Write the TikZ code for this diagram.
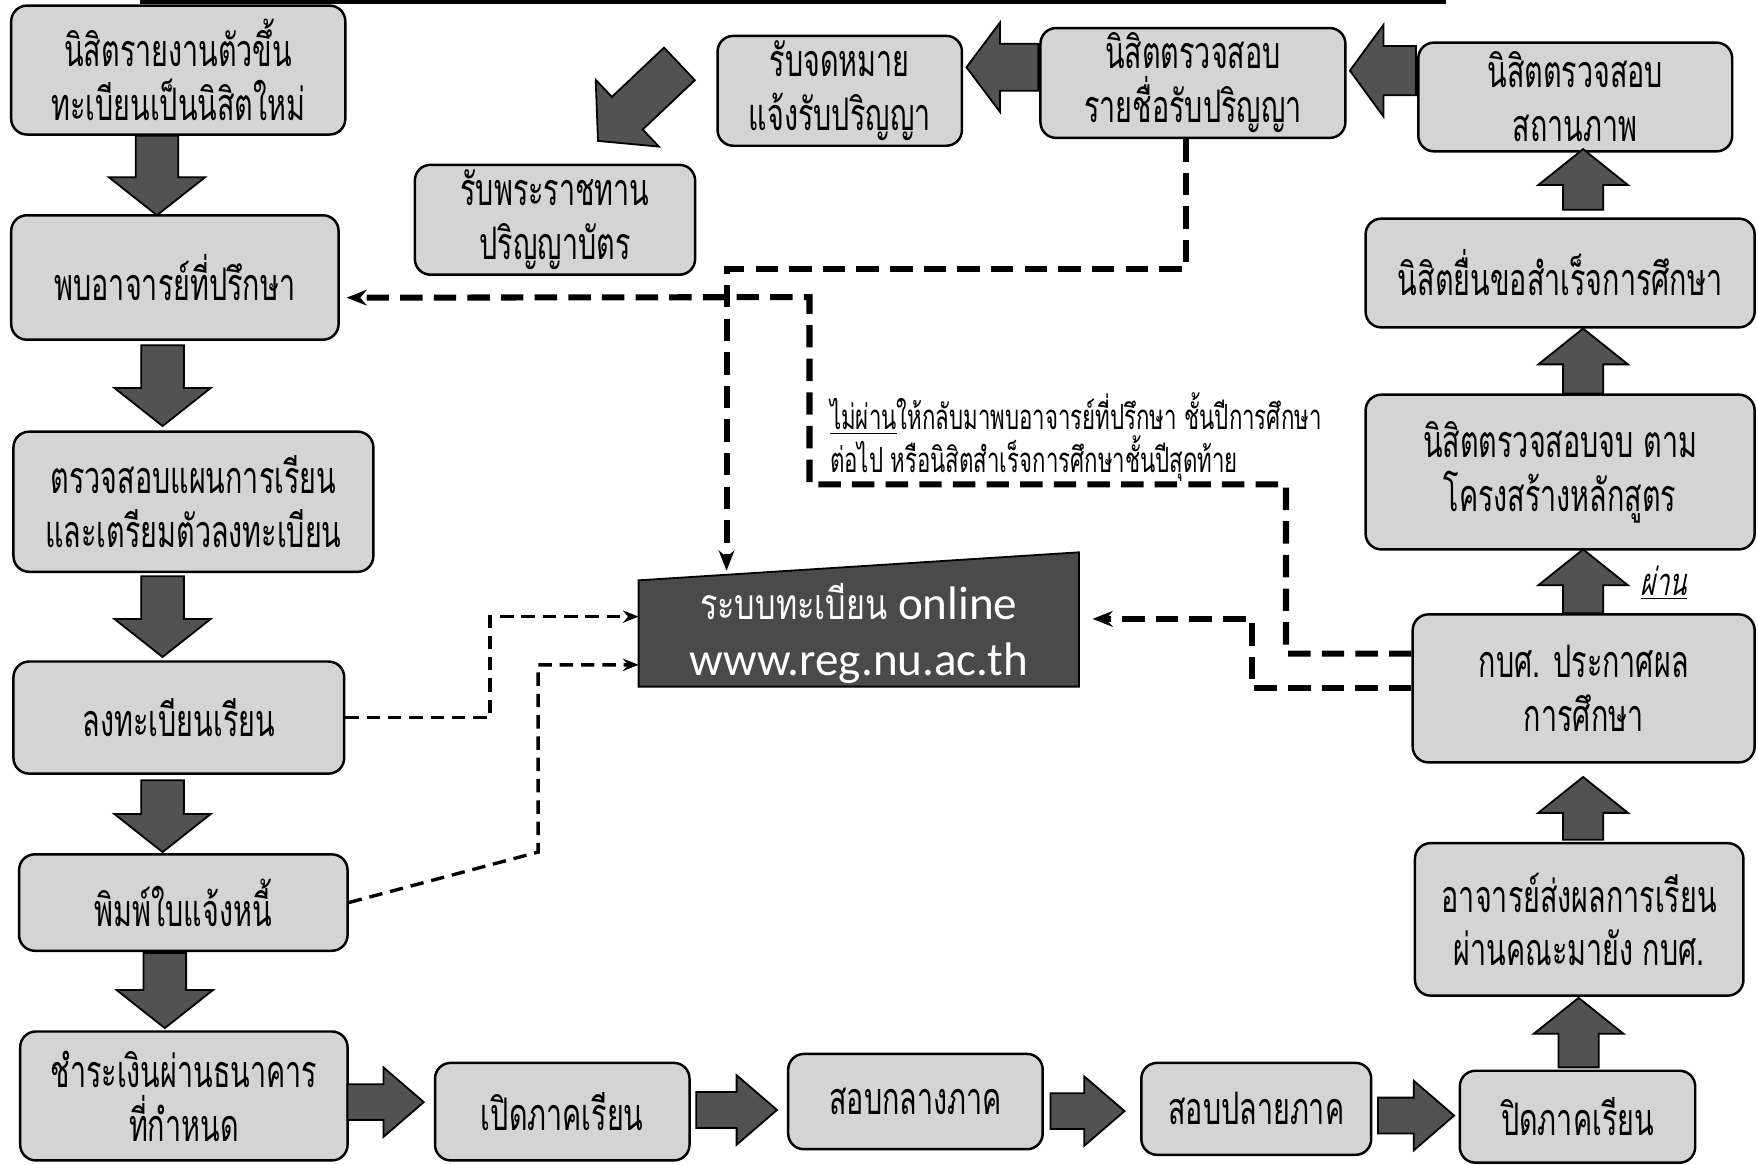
\documentclass[tikz,border=0pt]{standalone}
\usepackage{fontspec}
\setmainfont{Liberation Serif}
\newfontfamily\thaifont[Script=Thai,FakeStretch=0.64]{Loma}
\newfontfamily\thaireg[Script=Thai,FakeStretch=0.76]{Loma}
\newfontfamily\thaiit[Script=Thai,FakeStretch=0.66,FakeSlant=0.2]{Loma}
\newfontfamily\latfont{Carlito}
\usetikzlibrary{arrows.meta,calc,backgrounds}
\definecolor{boxgray}{RGB}{212,212,212}
\definecolor{arrgray}{RGB}{82,82,82}
\definecolor{regfill}{RGB}{74,74,74}
\tikzset{
  box/.style={draw=black, line width=1.1pt, rounded corners=7pt, fill=boxgray,
    align=center, inner sep=2pt, font=\thaifont\fontsize{20}{24}\selectfont},
  blk/.style={draw=black, line width=0.8pt, fill=arrgray, line join=miter},
  dl/.style={line width=2.7pt, dash pattern=on 10pt off 5pt,
    -{Stealth[length=9pt,width=7pt]}},
  dlt/.style={line width=1.5pt, dash pattern=on 6pt off 3.5pt,
    -{Stealth[length=7pt,width=5.5pt]}},
  regbox/.style={inner sep=0pt, align=center, text=white,
    font=\latfont\fontsize{21}{25}\selectfont},
  regshape/.style={draw=black, line width=0.8pt, fill=regfill}
}
% box: name, x1, y1, x2, y2, text
\newcommand\bx[6]{\node[box, minimum width={(#4-#2)*0.5pt}, minimum height={(#5-#3)*0.5pt}] (#1) at ({(#2+#4)/2},{(#3+#5)/2}) {#6};}
% block arrow: tail x, tail y, angle, length, shaft, head width, head length
\newcommand\barr[7]{%
  \begin{scope}[shift={(#1,#2)},rotate=#3]
    \draw[blk] (0,{-#5/2}) -- ({#4-#7},{-#5/2}) -- ({#4-#7},{-#6/2}) -- (#4,0)
      -- ({#4-#7},{#6/2}) -- ({#4-#7},{#5/2}) -- (0,{#5/2}) -- cycle;
  \end{scope}}
\begin{document}
\begin{tikzpicture}[x=0.5pt,y=-0.5pt]
\useasboundingbox (0,0) rectangle (1568,1039);
% cut-off title rule
\fill[black] (125,0) rectangle (1290,3.5);

% left column
\bx{b1}{10}{5}{308}{120}{นิสิตรายงานตัวขึ้น\\ทะเบียนเป็นนิสิตใหม่}
\bx{b2}{10}{192}{302}{303}{พบอาจารย์ที่ปรึกษา}
\bx{b3}{12}{385}{333}{510}{ตรวจสอบแผนการเรียน\\และเตรียมตัวลงทะเบียน}
\bx{b4}{12}{590}{307}{690}{ลงทะเบียนเรียน}
\bx{b5}{17}{762}{310}{848}{พิมพ์ใบแจ้งหนี้}
\bx{b6}{18}{920}{310}{1035}{ชำระเงินผ่านธนาคาร\\ที่กำหนด}
% bottom row
\bx{b7}{388}{948}{615}{1035}{เปิดภาคเรียน}
\bx{b8}{703}{940}{930}{1025}{สอบกลางภาค}
\bx{b9}{1018}{948}{1223}{1030}{สอบปลายภาค}
\bx{b10}{1302}{955}{1512}{1037}{ปิดภาคเรียน}
% right column
\bx{b11}{1262}{752}{1555}{888}{อาจารย์ส่งผลการเรียน\\ผ่านคณะมายัง กบศ.}
\bx{b12}{1260}{548}{1565}{680}{กบศ. ประกาศผล\\การศึกษา}
\bx{b13}{1218}{352}{1565}{490}{นิสิตตรวจสอบจบ ตาม\\โครงสร้างหลักสูตร}
\bx{b14}{1218}{195}{1565}{292}{นิสิตยื่นขอสำเร็จการศึกษา}
\bx{b15}{1265}{38}{1545}{135}{นิสิตตรวจสอบ\\สถานภาพ}
% top row
\bx{b16}{928}{25}{1200}{123}{นิสิตตรวจสอบ\\รายชื่อรับปริญญา}
\bx{b17}{640}{32}{858}{130}{รับจดหมาย\\แจ้งรับปริญญา}
\bx{b18}{370}{147}{620}{245}{รับพระราชทาน\\ปริญญาบัตร}

% registration system
\node[regbox, minimum width=196pt, minimum height=47pt] (reg) at (766,565)
  {{\thaireg\fontsize{19}{25}\selectfont ระบบทะเบียน} online\\
   www.reg.nu.ac.th};
\begin{pgfonlayer}{background}
\draw[regshape] (reg.south west) -- (reg.south east) -- ([yshift=12.5pt]reg.north east)
  -- (reg.north west) -- cycle;
\end{pgfonlayer}
\coordinate (regtop) at (648,509);

% block arrows: left column
\barr{140}{121}{-90}{71}{38}{86}{34}
\barr{145}{308}{-90}{72}{38}{86}{34}
\barr{145}{514}{-90}{72}{38}{86}{34}
\barr{145}{696}{-90}{64}{38}{86}{34}
\barr{147}{850}{-90}{67}{38}{86}{34}
% bottom row
\barr{310}{983}{0}{68}{32}{62}{36}
\barr{621}{990}{0}{72}{32}{62}{36}
\barr{937}{991}{0}{66}{32}{62}{36}
\barr{1229}{995}{0}{68}{32}{62}{36}
% right column
\barr{1408}{952}{90}{62}{36}{80}{32}
\barr{1412}{749}{90}{56}{36}{80}{32}
\barr{1412}{547}{90}{57}{36}{80}{32}
\barr{1412}{351}{90}{58}{36}{80}{32}
\barr{1412}{187}{90}{54}{36}{80}{32}
% top row
\barr{1263}{63}{180}{59}{44}{82}{30}
\barr{926}{60}{180}{64}{42}{80}{30}
\barr{606}{57}{223.4}{100}{40}{82}{36}

% dashed connectors
\draw[dl] ([xshift=-3pt]b16.south) -- (1058,240) -- (648,240) -- (regtop);
\draw[dl] ([yshift=15.5pt]b12.west) -| (1147,432) -| (722,265) -- ([xshift=3pt,yshift=-9pt]b2.east);
\draw[dl] (b12.west) -| (1117,552) -- ([xshift=6pt,yshift=6.5pt]reg.east);
\draw[dlt] (b4.east) -| (437,550) -- ([yshift=7.5pt]reg.west);
\draw[dlt] (b5.east) -- (480,760) -- (480,593) -- ([yshift=-14pt]reg.west);

% labels
\node[anchor=north west, align=left, inner sep=0pt,
  font=\thaifont\fontsize{15.5}{19}\selectfont] (note) at (740,350)
  {\underline{ไม่ผ่าน}ให้กลับมาพบอาจารย์ที่ปรึกษา ชั้นปีการศึกษา\\ต่อไป หรือนิสิตสำเร็จการศึกษาชั้นปีสุดท้าย};
\node[font=\thaiit\fontsize{17}{20}\selectfont, inner sep=0pt] (pass) at (1484,520) {\underline{ผ่าน}};
\end{tikzpicture}
\end{document}
